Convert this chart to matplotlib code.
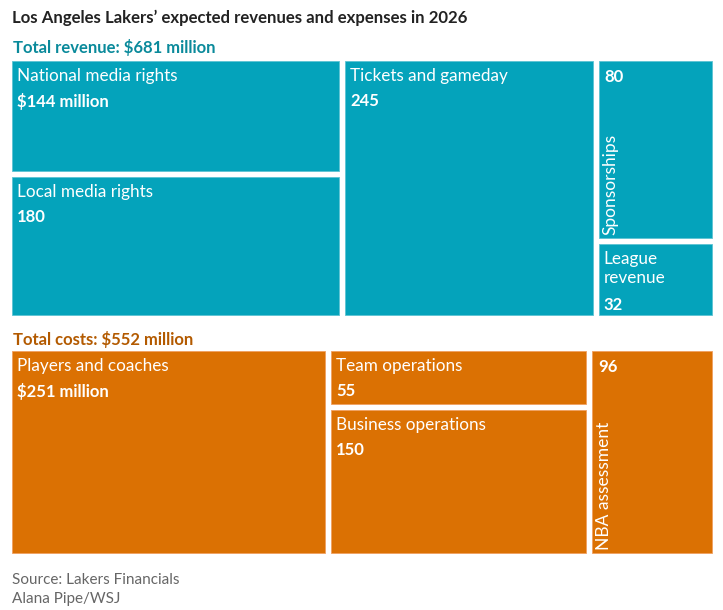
import matplotlib
matplotlib.use("Agg")
import matplotlib.pyplot as plt
from matplotlib.patches import Rectangle

plt.rcParams['font.family'] = ['Lato', 'DejaVu Sans']

# revenue, $ millions, grouped by column of the treemap
rev_labels = [["National media rights", "Local media rights"],
              ["Tickets and gameday"],
              ["Sponsorships", "League\nrevenue"]]
rev_values = [[144, 180], [245], [80, 32]]

# costs, $ millions
cost_labels = [["Players and coaches"],
               ["Team operations", "Business operations"],
               ["NBA assessment"]]
cost_values = [[251], [55, 150], [96]]

rev_total = 681
cost_total = 552

TEAL = "#04a3bb"
ORANGE = "#db7103"
GAP = 6


def treemap(ax, labels, values, x0, x1, y0, y1, color, vertical=()):
    total = sum(sum(c) for c in values)
    width = (x1 - x0) - GAP * (len(values) - 1)
    x = x0
    first = True
    for col_labels, col_vals in zip(labels, values):
        w = width * sum(col_vals) / total
        height = (y1 - y0) - GAP * (len(col_vals) - 1)
        y = y0
        for lab, v in zip(col_labels, col_vals):
            h = height * v / sum(col_vals)
            ax.add_patch(Rectangle((x, y), w, h, facecolor=color,
                                   edgecolor="#f0a060" if color == ORANGE else "#5cc3d3",
                                   linewidth=0.6))
            val = "$%d million" % v if first else str(v)
            first = False
            if lab in vertical:
                ax.text(x + 6, y + 8, val, color="white", fontsize=12,
                        fontweight="bold", va="top", ha="left")
                ax.text(x + 4, y + h - 3, lab, color="white", fontsize=12.5,
                        rotation=90, va="bottom", ha="left")
            else:
                nlines = lab.count("\n") + 1
                ax.text(x + 5, y + 7, lab, color="white", fontsize=12.3,
                        va="top", ha="left", linespacing=1.25)
                ax.text(x + 5, y + 8 + 21 * nlines + 3, val, color="white",
                        fontsize=12, fontweight="bold", va="top", ha="left")
            y += h + GAP
        x += w + GAP


fig = plt.figure(figsize=(7.23, 6.10), dpi=100)
ax = fig.add_axes([0, 0, 1, 1])
ax.set_xlim(0, 723)
ax.set_ylim(610, 0)
ax.axis("off")

ax.text(12, 18, "Los Angeles Lakers\u2019 expected revenues and expenses in 2026",
        fontsize=12.1, fontweight="bold", color="#222222", va="center", ha="left")

ax.text(13, 47, "Total revenue: $%d million" % rev_total, fontsize=12,
        fontweight="bold", color="#0a8a9b", va="center", ha="left")
treemap(ax, rev_labels, rev_values, 12, 712, 61, 315, TEAL,
        vertical=("Sponsorships",))

ax.text(13, 339, "Total costs: $%d million" % cost_total, fontsize=12,
        fontweight="bold", color="#b35a00", va="center", ha="left")
treemap(ax, cost_labels, cost_values, 12, 712, 351, 553, ORANGE,
        vertical=("NBA assessment",))

ax.text(12, 580, "Source: Lakers Financials", fontsize=11, color="#666666",
        va="center", ha="left")
ax.text(12, 599, "Alana Pipe/WSJ", fontsize=11, color="#666666",
        va="center", ha="left")

fig.savefig("out.png", dpi=100)
